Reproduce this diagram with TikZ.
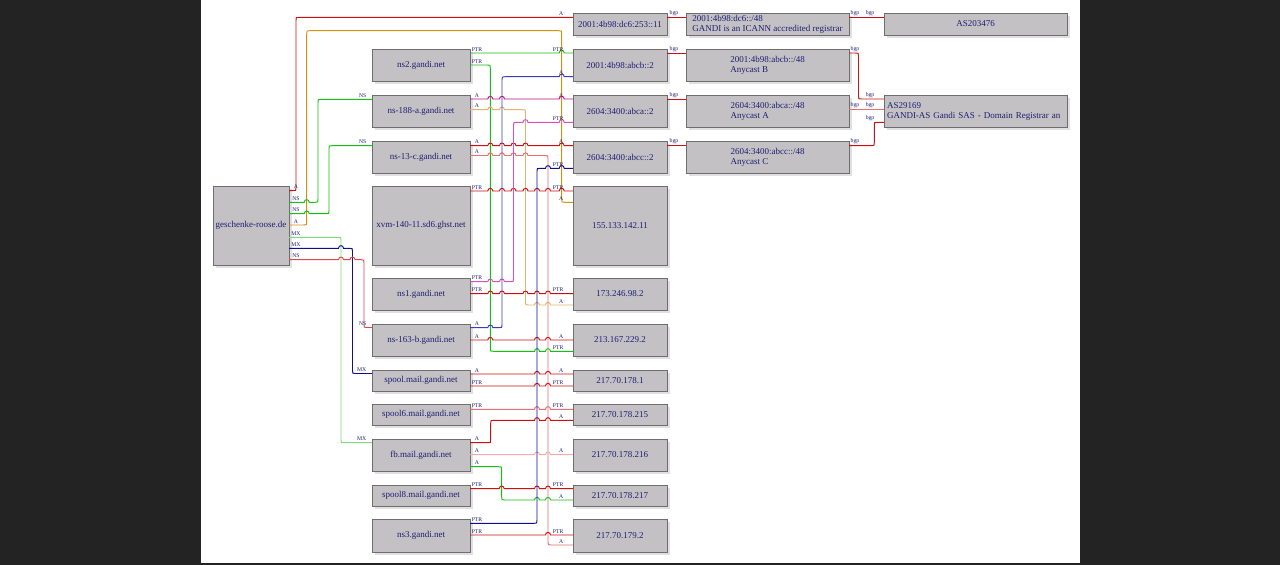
\documentclass[tikz,border=0pt]{standalone}
\usepackage{fontspec}
\setmainfont{Liberation Serif}
\usetikzlibrary{shadows}
\definecolor{bgc}{HTML}{232323}
\definecolor{boxfill}{HTML}{C3C1C3}
\definecolor{boxline}{HTML}{6E6E6E}
\definecolor{shd}{HTML}{E0E0E0}
\definecolor{txt}{HTML}{1E1E74}
\definecolor{cR}{HTML}{CC1010}
\definecolor{cRm}{HTML}{DC4848}
\definecolor{cRl}{HTML}{E47070}
\definecolor{cRp}{HTML}{F0ACAC}
\definecolor{cO}{HTML}{D09010}
\definecolor{cOl}{HTML}{E0B470}
\definecolor{cG}{HTML}{14C014}
\definecolor{cGl}{HTML}{7CDC7C}
\definecolor{cN}{HTML}{10108C}
\definecolor{cB}{HTML}{3C3CB4}
\definecolor{cM}{HTML}{BC1090}
\definecolor{cMp}{HTML}{D850BC}
% hop over a vertical line at x=#1 on a horizontal line at y=#2
\newcommand\hp[2]{-- ({#1-2.5},#2) .. controls ({#1-2.5},{#2-3.5}) and ({#1+2.5},{#2-3.5}) .. ({#1+2.5},#2)}
% rounded corners: right->up, up->right, right->down, down->right
\newcommand\cRU[2]{-- ({#1-3},#2) .. controls (#1,#2) .. (#1,{#2-3})}
\newcommand\cUR[2]{-- (#1,{#2+3}) .. controls (#1,#2) .. ({#1+3},#2)}
\newcommand\cRD[2]{-- ({#1-3},#2) .. controls (#1,#2) .. (#1,{#2+3})}
\newcommand\cDR[2]{-- (#1,{#2-3}) .. controls (#1,#2) .. ({#1+3},#2)}
\tikzset{
  box/.style={draw=boxline, fill=boxfill, line width=0.6pt, inner sep=0pt, outer sep=0pt,
    text=txt, font=\fontsize{9}{10}\selectfont, align=left,
    drop shadow={shadow xshift=3pt, shadow yshift=-3pt, fill=shd, opacity=1}},
  e/.style={line width=0.95pt},
  lab/.style={font=\fontsize{5.7}{6}\selectfont, text=txt, inner sep=0.2pt},
  sl/.style={lab, anchor=south, xshift=7pt, yshift=1.1pt},
  tl/.style={lab, anchor=south east, xshift=-9pt, yshift=1.1pt},
  tlb/.style={lab, anchor=south east, xshift=-5pt, yshift=1.1pt},
  bs/.style={lab, anchor=south west, xshift=2pt, yshift=0.9pt},
  bs2/.style={lab, anchor=south west, xshift=1pt, yshift=0.9pt},
  bt/.style={lab, anchor=south east, xshift=-9pt, yshift=0.9pt}
}
\begin{document}
\begin{tikzpicture}[x=1pt,y=-1pt]
\useasboundingbox (0,0) rectangle (1280,565);
\fill[bgc] (0,0) rectangle (1280,565);
\fill[white] (201,0) rectangle (1080,563);

% column 1
\node[box, minimum width=76pt, minimum height=79pt] (gr) at (251,225.5) {geschenke-roose.de};
% column 2
\node[box, minimum width=98pt, minimum height=32pt] (ns2) at (421,65) {ns2.gandi.net};
\node[box, minimum width=98pt, minimum height=32pt] (ns188) at (421,111) {ns-188-a.gandi.net};
\node[box, minimum width=98pt, minimum height=32pt] (ns13) at (421,157) {ns-13-c.gandi.net};
\node[box, minimum width=98pt, minimum height=79pt] (xvm) at (421,225.5) {xvm-140-11.sd6.ghst.net};
\node[box, minimum width=98pt, minimum height=32pt] (ns1) at (421,294) {ns1.gandi.net};
\node[box, minimum width=98pt, minimum height=32pt] (ns163) at (421,340) {ns-163-b.gandi.net};
\node[box, minimum width=98pt, minimum height=21pt] (spool) at (421,380.5) {spool.mail.gandi.net};
\node[box, minimum width=98pt, minimum height=21pt] (spool6) at (421,414.5) {spool6.mail.gandi.net};
\node[box, minimum width=98pt, minimum height=32pt] (fb) at (421,455) {fb.mail.gandi.net};
\node[box, minimum width=98pt, minimum height=21pt] (spool8) at (421,495.5) {spool8.mail.gandi.net};
\node[box, minimum width=98pt, minimum height=33pt] (ns3) at (421,535.5) {ns3.gandi.net};
% column 3
\node[box, minimum width=94pt, minimum height=22pt] (s253) at (620,24) {2001:4b98:dc6:253::11};
\node[box, minimum width=94pt, minimum height=32pt] (abcb) at (620,65) {2001:4b98:abcb::2};
\node[box, minimum width=94pt, minimum height=32pt] (abca) at (620,111) {2604:3400:abca::2};
\node[box, minimum width=94pt, minimum height=32pt] (abcc) at (620,157) {2604:3400:abcc::2};
\node[box, minimum width=94pt, minimum height=79pt] (s155) at (620,225.5) {155.133.142.11};
\node[box, minimum width=94pt, minimum height=32pt] (s173) at (620,294) {173.246.98.2};
\node[box, minimum width=94pt, minimum height=32pt] (s213) at (620,340) {213.167.229.2};
\node[box, minimum width=94pt, minimum height=21pt] (s1781) at (620,380.5) {217.70.178.1};
\node[box, minimum width=94pt, minimum height=21pt] (s215) at (620,414.5) {217.70.178.215};
\node[box, minimum width=94pt, minimum height=32pt] (s216) at (620,455) {217.70.178.216};
\node[box, minimum width=94pt, minimum height=21pt] (s217) at (620,495.5) {217.70.178.217};
\node[box, minimum width=94pt, minimum height=33pt] (s1792) at (620,535.5) {217.70.179.2};
% column 4
\node[box, minimum width=163pt, minimum height=22pt] (p1) at (767.5,24) {2001:4b98:dc6::/48\\GANDI is an ICANN accredited registrar};
\node[box, minimum width=163pt, minimum height=32pt] (p2) at (767.5,65) {2001:4b98:abcb::/48\\Anycast B};
\node[box, minimum width=163pt, minimum height=32pt] (p3) at (767.5,111) {2604:3400:abca::/48\\Anycast A};
\node[box, minimum width=163pt, minimum height=32pt] (p4) at (767.5,157) {2604:3400:abcc::/48\\Anycast C};
% column 5
\node[box, minimum width=183pt, minimum height=22pt, align=center] (as203) at (975.5,24) {AS203476};
\node[box, minimum width=183pt, minimum height=32pt, text width=177pt] (as291) at (975.5,111) {AS29169\\GANDI-AS Gandi SAS - Domain Registrar an};

% ---- edges from geschenke-roose.de
\draw[e,cR] (gr.east |- 0,190.7) node[sl]{A} \cRU{296}{190.7} \cUR{296}{17.3} -- (s253.west |- 0,17.3) node[tl]{A};
\draw[e,cO] (gr.east |- 0,225) node[sl]{A} \cRU{306.7}{225} \cUR{306.7}{30.7} \cRD{561.7}{30.7} \cDR{561.7}{202.3} -- (s155.west |- 0,202.3) node[tl]{A};
\draw[e,cG] (gr.east |- 0,202.3) node[sl]{NS} \hp{306.7}{202.3} \cRU{318}{202.3} \cUR{318}{99.3} -- (ns188.west |- 0,99.3) node[tlb]{NS};
\draw[e,cG] (gr.east |- 0,213.7) node[sl]{NS} \hp{306.7}{213.7} \cRU{329}{213.7} \cUR{329}{145.7} -- (ns13.west |- 0,145.7) node[tlb]{NS};
\draw[e,cGl] (gr.east |- 0,237.3) node[sl]{MX} \cRD{341}{237.3} \cDR{341}{442.7} -- (fb.west |- 0,442.7) node[tlb]{MX};
\draw[e,cN] (gr.east |- 0,248.3) node[sl]{MX} \hp{341}{248.3} \cRD{352.5}{248.3} \cDR{352.5}{373.5} -- (spool.west |- 0,373.5) node[tlb]{MX};
\draw[e,cRm] (gr.east |- 0,259.7) node[sl]{NS} \hp{341}{259.7} \hp{352.5}{259.7} \cRD{364}{259.7} \cDR{364}{327.5} -- (ns163.west |- 0,327.5) node[tlb]{NS};

% ---- edges between names and addresses
\draw[e,cG] (ns2.east |- 0,53) node[sl]{PTR} \hp{561.7}{53} -- (abcb.west |- 0,53) node[tl]{PTR};
\draw[e,cG] (ns2.east |- 0,65) node[sl]{PTR} \cRD{490.3}{65} \cDR{490.3}{351.3} \hp{537}{351.3} \hp{548}{351.3} -- (s213.west |- 0,351.3) node[tl]{PTR};
\draw[e,cM] (ns188.east |- 0,99) node[sl]{A} \hp{490.3}{99} \hp{502}{99} \hp{561.7}{99} -- (abca.west |- 0,99) node[tl]{A};
\draw[e,cOl] (ns188.east |- 0,109.7) node[sl]{A} \hp{490.3}{109.7} \hp{502}{109.7} \cRD{525.5}{109.7} \cDR{525.5}{305} \hp{537}{305} \hp{548}{305} -- (s173.west |- 0,305) node[tl]{A};
\draw[e,cR] (ns13.east |- 0,145.7) node[sl]{A} \hp{490.3}{145.7} \hp{502}{145.7} \hp{513.5}{145.7} \hp{525.5}{145.7} \hp{561.7}{145.7} -- (abcc.west |- 0,145.7) node[tl]{A};
\draw[e,cRl] (ns13.east |- 0,155.5) node[sl]{A} \hp{490.3}{155.5} \hp{502}{155.5} \hp{513.5}{155.5} \hp{525.5}{155.5} \cRD{548}{155.5} \cDR{548}{545} -- (s1792.west |- 0,545) node[tl]{A};
\draw[e,cR] (xvm.east |- 0,191) node[sl]{PTR} \hp{490.3}{191} \hp{502}{191} \hp{513.5}{191} \hp{525.5}{191} \hp{537}{191} \hp{548}{191} \hp{561.7}{191} -- (s155.west |- 0,191) node[tl]{PTR};
\draw[e,cMp] (ns1.east |- 0,281.7) node[sl]{PTR} \hp{490.3}{281.7} \hp{502}{281.7} \cRU{513.5}{281.7} \cUR{513.5}{122.3} \hp{525.5}{122.3} \hp{561.7}{122.3} -- (abca.west |- 0,122.3) node[tl]{PTR};
\draw[e,cR] (ns1.east |- 0,293.7) node[sl]{PTR} \hp{490.3}{293.7} \hp{502}{293.7} \hp{525.5}{293.7} \hp{537}{293.7} \hp{548}{293.7} -- (s173.west |- 0,293.7) node[tl]{PTR};
\draw[e,cB] (ns163.east |- 0,327.7) node[sl]{A} \hp{490.3}{327.7} \cRU{502}{327.7} \cUR{502}{76.7} \hp{561.7}{76.7} -- (abcb.west |- 0,76.7) node[tl]{A};
\draw[e,cR] (ns163.east |- 0,340) node[sl]{A} \hp{490.3}{340} \hp{537}{340} \hp{548}{340} -- (s213.west |- 0,340) node[tl]{A};
\draw[e,cR] (spool.east |- 0,374) node[sl]{A} \hp{537}{374} \hp{548}{374} -- (s1781.west |- 0,374) node[tl]{A};
\draw[e,cR] (spool.east |- 0,386) node[sl]{PTR} \hp{537}{386} \hp{548}{386} -- (s1781.west |- 0,386) node[tl]{PTR};
\draw[e,cRl] (spool6.east |- 0,409.3) node[sl]{PTR} \hp{537}{409.3} \hp{548}{409.3} -- (s215.west |- 0,409.3) node[tl]{PTR};
\draw[e,cR] (fb.east |- 0,442.7) node[sl]{A} \cRU{490.7}{442.7} \cUR{490.7}{420.3} \hp{537}{420.3} \hp{548}{420.3} -- (s215.west |- 0,420.3) node[tl]{A};
\draw[e,cRp] (fb.east |- 0,454.7) node[sl]{A} \hp{537}{454.7} \hp{548}{454.7} -- (s216.west |- 0,454.7) node[tl]{A};
\draw[e,cG] (fb.east |- 0,466.7) node[sl]{A} \cRD{501.7}{466.7} \cDR{501.7}{500} \hp{537}{500} \hp{548}{500} -- (s217.west |- 0,500) node[tl]{A};
\draw[e,cR] (spool8.east |- 0,488.7) node[sl]{PTR} \hp{501.7}{488.7} \hp{537}{488.7} \hp{548}{488.7} -- (s217.west |- 0,488.7) node[tl]{PTR};
\draw[e,cN] (ns3.east |- 0,523.3) node[sl]{PTR} \cRU{537}{523.3} \cUR{537}{168.3} \hp{548}{168.3} \hp{561.7}{168.3} -- (abcc.west |- 0,168.3) node[tl]{PTR};
\draw[e,cR] (ns3.east |- 0,535) node[sl]{PTR} \hp{548}{535} -- (s1792.west |- 0,535) node[tl]{PTR};

% ---- bgp edges
\draw[e,cR] (s253.east |- 0,17.3) node[bs]{bgp} -- (p1.west |- 0,17.3);
\draw[e,cR] (abcb.east |- 0,53) node[bs]{bgp} -- (p2.west |- 0,53);
\draw[e,cR] (abca.east |- 0,99) node[bs]{bgp} -- (p3.west |- 0,99);
\draw[e,cR] (abcc.east |- 0,145.7) node[bs]{bgp} -- (p4.west |- 0,145.7);
\draw[e,cR] (p1.east |- 0,17.3) node[bs2]{bgp} -- (as203.west |- 0,17.3) node[bt]{bgp};
\draw[e,cR] (p2.east |- 0,53) node[bs2]{bgp} \cRD{858.5}{53} \cDR{858.5}{99} -- (as291.west |- 0,99) node[bt]{bgp};
\draw[e,cRl] (p3.east |- 0,109.7) node[bs2]{bgp} -- (as291.west |- 0,109.7) node[bt]{bgp};
\draw[e,cR] (p4.east |- 0,145.7) node[bs2]{bgp} \cRU{874.3}{145.7} \cUR{874.3}{122.3} -- (as291.west |- 0,122.3) node[bt]{bgp};
\end{tikzpicture}
\end{document}
